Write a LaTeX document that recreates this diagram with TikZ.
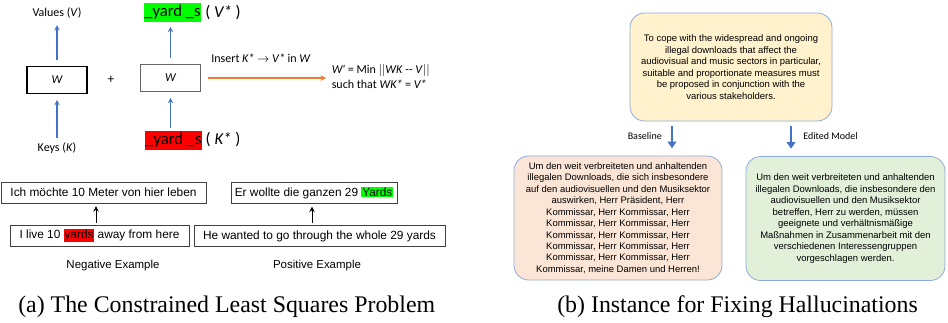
\documentclass[tikz,border=0pt]{standalone}
\usepackage{fontspec}
\setmainfont{Liberation Serif}
\newfontfamily\calibri{Carlito}
\newfontfamily\arial{Liberation Sans}
\usetikzlibrary{arrows.meta}
\definecolor{offblue}{HTML}{4472C4}
\definecolor{offorange}{HTML}{ED7D31}
\definecolor{hlgreen}{HTML}{00FF00}
\definecolor{hlred}{HTML}{FF0000}
\definecolor{boxline}{HTML}{8FAADC}
\definecolor{gold}{HTML}{FFF2CC}
\definecolor{peach}{HTML}{FBE5D6}
\definecolor{mint}{HTML}{E2F0D9}
\setlength{\fboxsep}{0.6pt}

\begin{document}
\begin{tikzpicture}[x=0.75pt, y=-0.75pt,
  every node/.style={inner sep=0pt},
  lbl/.style={font=\calibri\fontsize{9}{11}\selectfont},
  wbox/.style={draw, line width=0.8pt, minimum width=45pt, minimum height=20pt, font=\calibri\itshape\fontsize{9}{11}\selectfont},
  tok/.style={minimum width=39.75pt, minimum height=14.25pt, font=\calibri\fontsize{12.5}{14}\selectfont},
  blue up/.style={->, >=stealth, offblue, line width=0.8pt},
  sent/.style={draw=black!75, line width=0.7pt, minimum height=15.75pt, font=\arial\fontsize{8.9}{11}\selectfont},
  ex/.style={font=\arial\fontsize{8.6}{10}\selectfont},
  card/.style={draw=boxline, line width=0.6pt, rounded corners=11pt, align=center, font=\arial\fontsize{7.1}{8.6}\selectfont},
  fat/.style={-{Triangle[width=6.5pt,length=5pt]}, offblue, line width=2pt},
  caption/.style={anchor=west, font=\fontsize{17.9}{20}\selectfont}]
\useasboundingbox (0,0) rectangle (948,322);

% (a) top: keys -> W -> values
\node[lbl] (values) at (57,13) {Values (\textit{V})};
\node[wbox] (wl) at (57,80) {W};
\node[lbl] (keys) at (57,148) {Keys (\textit{K})};
\node[lbl, font=\calibri\fontsize{10}{12}\selectfont] (plus) at (111,80) {+};
\node[wbox, draw=black!60] (wr) at (170.5,78) {W};
\node[tok, fill=hlgreen] (vstar) at (172.5,12.5) {\_yard \_s};
\node[tok, fill=hlred] (kstar) at (173.5,140.5) {\_yard \_s};
\node[tok, minimum width=0pt] (vlab) at (223,13) {( \textit{V*} )};
\node[tok, minimum width=0pt] (klab) at (223,140) {( \textit{K*} )};
\draw[blue up, shorten <=4.5pt, shorten >=5pt] (wl.north) -- (values.south);
\draw[blue up, shorten <=3pt, shorten >=4.5pt] (keys.north) -- (wl.south);
\draw[blue up, shorten <=4.5pt, shorten >=3.5pt] (wr.north) -- (wr.north |- vstar.south);
\draw[blue up, shorten <=2pt, shorten >=4.5pt] (wr.south |- kstar.north) -- (wr.south);

% insert the new pair
\node[lbl, anchor=east, align=left] (goal) at (430,76.5) {\textit{W'} = Min $|$$|$\textit{WK} -- \textit{V}$|$$|$\\such that \textit{WK*} = \textit{V*}};
\node[lbl] (ins) at (261,58) {Insert \textit{K*} $\rightarrow$ \textit{V*} in \textit{W}};
\draw[->, >=stealth, offorange, line width=0.9pt, shorten <=5pt, shorten >=4pt] (wr.east) -- (wr.east -| goal.west);

% (a) bottom: translation examples
\node[sent, minimum width=153.75pt] (ich) at (103.5,192.5) {Ich möchte 10 Meter von hier leben};
\node[sent, minimum width=124.5pt] (er) at (314,193) {Er wollte die ganzen 29 \colorbox{hlgreen}{Yards}};
\node[sent, minimum width=134.25pt] (live) at (99.5,235.5) {I live 10 \colorbox{hlred}{yards} away from here};
\node[sent, minimum width=188.25pt] (he) at (319.5,236) {He wanted to go through the whole 29 yards};
\draw[->, >=stealth, line width=0.8pt, shorten <=1.5pt, shorten >=2pt] ([xshift=-2.6pt]live.north) -- ([xshift=-2.6pt]live.north |- ich.south);
\draw[->, >=stealth, line width=0.8pt, shorten <=1.5pt, shorten >=2pt] ([xshift=-5.6pt]he.north) -- ([xshift=-5.6pt]he.north |- er.south);
\node[ex] (neg) at (113,266) {Negative Example};
\node[ex] (pos) at (317,266) {Positive Example};

% (b) source sentence and the two outputs
\node[card, fill=gold, minimum width=151.5pt, minimum height=81pt] (src) at (731,67) {To cope with the widespread and ongoing\\illegal downloads that affect the\\audiovisual and music sectors in particular,\\suitable and proportionate measures must\\be proposed in conjunction with the\\various stakeholders.};
\node[card, fill=peach, minimum width=156pt, minimum height=93pt] (base) at (618,218) {Um den weit verbreiteten und anhaltenden\\illegalen Downloads, die sich insbesondere\\auf den audiovisuellen und den Musiksektor\\auswirken, Herr Präsident, Herr\\Kommissar, Herr Kommissar, Herr\\Kommissar, Herr Kommissar, Herr\\Kommissar, Herr Kommissar, Herr\\Kommissar, Herr Kommissar, Herr\\Kommissar, Herr Kommissar, Herr\\Kommissar, meine Damen und Herren!};
\node[card, fill=mint, minimum width=149.25pt, minimum height=93pt] (edit) at (845.5,218.5) {Um den weit verbreiteten und anhaltenden\\illegalen Downloads, die insbesondere den\\audiovisuellen und den Musiksektor\\betreffen, Herr zu werden, müssen\\geeignete und verhältnismäßige\\Maßnahmen in Zusammenarbeit mit den\\verschiedenen Interessengruppen\\vorgeschlagen werden.};
\draw[fat, shorten <=3.75pt, shorten >=5.5pt] ([xshift=-44.25pt]src.south) -- ([xshift=40.5pt]base.north);
\draw[fat, shorten <=3.75pt, shorten >=5.5pt] ([xshift=45pt]src.south) -- ([xshift=-40.875pt]edit.north);
\node[lbl, font=\calibri\fontsize{7.5}{9}\selectfont, anchor=east] (bl) at (662,136) {Baseline};
\node[lbl, font=\calibri\fontsize{7.5}{9}\selectfont, anchor=west] (em) at (803,136) {Edited Model};

% captions
\node[caption] (capa) at (18,307) {(a) The Constrained Least Squares Problem};
\node[caption] (capb) at (557,307) {(b) Instance for Fixing Hallucinations};
\end{tikzpicture}
\end{document}
